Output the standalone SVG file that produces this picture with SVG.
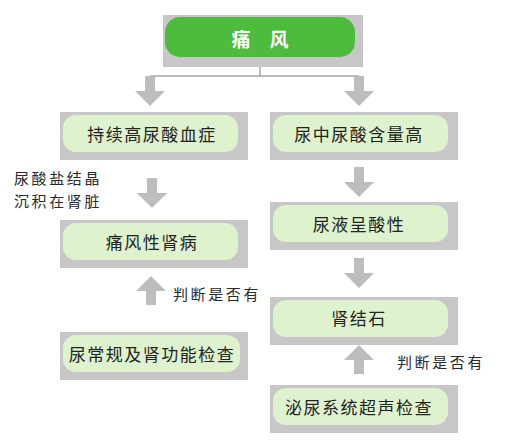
<svg xmlns="http://www.w3.org/2000/svg" width="512" height="441" viewBox="0 0 512 441">
<style>
.sh{fill:#c7c7c7}
.bx{fill:#def2cd}
.t{font-family:"Noto Sans CJK SC","Noto Sans",sans-serif;font-size:17px;fill:#222;text-anchor:middle;dominant-baseline:central;letter-spacing:1.5px}
.lb{font-family:"Noto Sans CJK SC",serif;font-size:15px;fill:#2a2a2a;letter-spacing:2.6px;dominant-baseline:central}
.ar{fill:#bdbdbd}
</style>
<defs>
<path id="down" d="M-5,0 H5 V15 H15 L0,30 L-15,15 H-5 Z"/>
<path id="up" d="M0,0 L15,15 H5 V29 H-5 V15 H-15 Z"/>
</defs>
<rect width="512" height="441" fill="#fff"/>
<g id="connectors">
<path d="M260,57 V76 M150,76 H359" stroke="#a8a8a8" stroke-width="1.5" fill="none"/>
<use href="#down" class="ar" x="150" y="76"/>
<use href="#down" class="ar" x="359" y="76"/>
<use href="#down" class="ar" x="152" y="178"/>
<use href="#down" class="ar" x="359" y="167"/>
<use href="#down" class="ar" x="359" y="258"/>
<use href="#up" class="ar" x="151" y="276"/>
<use href="#up" class="ar" x="359" y="345"/>
</g>
<g id="n0">
<rect class="sh" x="163" y="15" width="200" height="52"/>
<rect x="165" y="17" width="190" height="40" rx="15" fill="#4dbb3b"/>
<text x="260" y="38" style="font-family:'Noto Sans CJK SC',sans-serif;font-size:19px;font-weight:bold;fill:#fff;text-anchor:middle;dominant-baseline:central" xml:space="preserve">痛　风</text>
</g>
<g id="n1">
<rect class="sh" x="60" y="112" width="188" height="48"/>
<rect class="bx" x="63" y="115" width="175" height="37" rx="13"/>
<text class="t" x="152" y="133">持续高尿酸血症</text>
</g>
<g id="n2">
<rect class="sh" x="60" y="220" width="188" height="48"/>
<rect class="bx" x="63" y="223" width="175" height="37" rx="13"/>
<text class="t" x="152" y="241">痛风性肾病</text>
</g>
<g id="n3">
<rect class="sh" x="60" y="332" width="188" height="48"/>
<rect class="bx" x="63" y="335" width="177" height="37" rx="13"/>
<text class="t" x="152" y="353">尿常规及肾功能检查</text>
</g>
<g id="n4">
<rect class="sh" x="270" y="112" width="188" height="48"/>
<rect class="bx" x="273" y="115" width="175" height="37" rx="13"/>
<text class="t" x="359" y="133">尿中尿酸含量高</text>
</g>
<g id="n5">
<rect class="sh" x="270" y="202" width="188" height="48"/>
<rect class="bx" x="273" y="205" width="175" height="37" rx="13"/>
<text class="t" x="359" y="223">尿液呈酸性</text>
</g>
<g id="n6">
<rect class="sh" x="270" y="297" width="188" height="48"/>
<rect class="bx" x="273" y="300" width="175" height="37" rx="13"/>
<text class="t" x="359" y="317">肾结石</text>
</g>
<g id="n7">
<rect class="sh" x="270" y="385" width="188" height="48"/>
<rect class="bx" x="273" y="388" width="175" height="37" rx="13"/>
<text class="t" x="359" y="406">泌尿系统超声检查</text>
</g>
<g id="labels">
<text class="lb" x="14" y="177">尿酸盐结晶</text>
<text class="lb" x="14" y="200">沉积在肾脏</text>
<text class="lb" x="173" y="293">判断是否有</text>
<text class="lb" x="397" y="361">判断是否有</text>
</g>
</svg>
